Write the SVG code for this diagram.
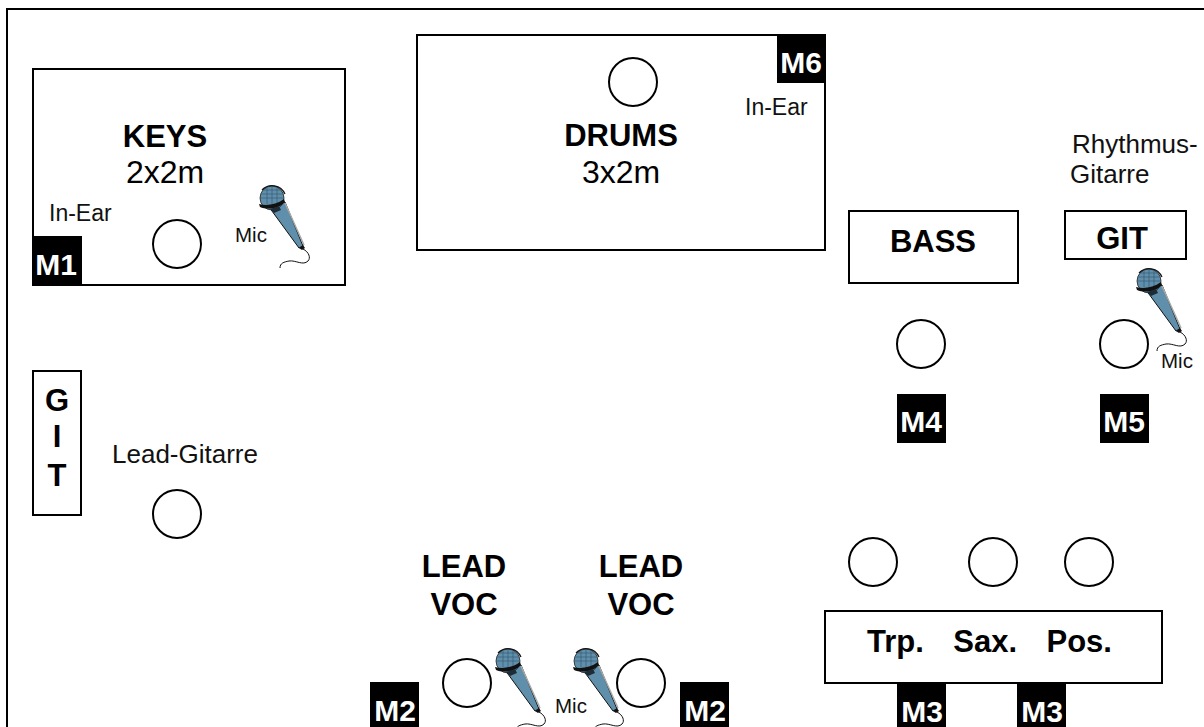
<svg xmlns="http://www.w3.org/2000/svg" width="1204" height="727" viewBox="0 0 1204 727">
<style>
text{font-family:"Liberation Sans",Arial,sans-serif;fill:#000}
.b{font-weight:bold;font-size:31px;text-anchor:middle}
.n{font-size:32px;text-anchor:middle}
.s{font-size:23px;fill:#111}
.l{font-size:26px;fill:#111}
.m{font-size:20.5px;fill:#111}
.k{font-weight:bold;font-size:30px;fill:#fff;text-anchor:middle}
.box{fill:#fff;stroke:#000;stroke-width:2}
.c{fill:#fff;stroke:#000;stroke-width:2}
</style>
<defs>
<g id="mic">
<path d="M-3 9 L27 50 L31 48 L13 4Z" fill="#5f8fab" stroke="#111" stroke-width="1"/>
<path d="M13 5 L32 47" stroke="#aaa" stroke-width="1.500" fill="none"/>
<path d="M27 50 L31 47 L33 50 L30 52Z" fill="#111"/>
<path d="M31 51 C37 54 39 60 36 63 C31 68 24 62 17 63 C12 64 8 65 8 70" fill="none" stroke="#111" stroke-width="1"/>
<circle cx="0" cy="0" r="12" fill="#5f8fab" stroke="#222" stroke-width="0.800"/>
<path d="M-10 -8 A14 14 0 0 1 13 -4" fill="none" stroke="#111" stroke-width="1.200"/>
<path d="M-11 -4H11M-12 0H12M-8 -8H8M-5 -11V6M0 -12V6M5 -11V6" stroke="#33556b" stroke-width="0.600" fill="none"/>
<path d="M-13 6 C-6 8 4 7 12 1 L13 4 C7 11 -5 12 -12 9Z" fill="#111"/>
<path d="M-2 11 L7 8 L9 12 L2 15Z" fill="#1d2c36"/>
</g>
<rect id="tag" x="0" y="0" width="49" height="49" fill="#000"/>
</defs>
<path id="stage" d="M7 727V9H1204" fill="none" stroke="#000" stroke-width="2"/>
<g id="connectors"/>
<g id="keys">
<rect class="box" x="33" y="69" width="312" height="216"/>
<use href="#tag" x="33" y="236"/>
<text class="k" x="56" y="275">M1</text>
<text class="b" x="165" y="147">KEYS</text>
<text class="n" x="165" y="183">2x2m</text>
<text class="s" x="49" y="221">In-Ear</text>
<circle class="c" cx="177" cy="244" r="24"/>
<text class="m" x="235" y="242">Mic</text>
<use href="#mic" x="272" y="198"/>
</g>
<g id="drums">
<rect class="box" x="417" y="35" width="408" height="215"/>
<use href="#tag" x="777" y="34"/>
<text class="k" x="801" y="73">M6</text>
<circle class="c" cx="633" cy="82" r="24"/>
<text class="b" x="621" y="146">DRUMS</text>
<text class="n" x="621" y="183">3x2m</text>
<text class="s" x="745" y="115">In-Ear</text>
</g>
<g id="bass">
<rect class="box" x="849" y="211" width="169" height="72"/>
<text class="b" x="933" y="252">BASS</text>
<circle class="c" cx="921" cy="344" r="24"/>
<use href="#tag" x="897" y="394"/>
<text class="k" x="921" y="432">M4</text>
</g>
<g id="rhythm-git">
<text class="l" x="1072" y="153">Rhythmus-</text>
<text class="l" x="1070" y="183">Gitarre</text>
<rect class="box" x="1065" y="211" width="121" height="48"/>
<text class="b" x="1122" y="249">GIT</text>
<circle class="c" cx="1124" cy="344" r="24"/>
<use href="#mic" x="1149" y="281"/>
<text class="m" x="1161" y="368">Mic</text>
<use href="#tag" x="1100" y="394"/>
<text class="k" x="1124" y="432">M5</text>
</g>
<g id="lead-git">
<rect class="box" x="33" y="371" width="48" height="144"/>
<text class="b" x="57" y="411">G</text>
<text class="b" x="57" y="447">I</text>
<text class="b" x="57" y="486">T</text>
<text class="l" x="112" y="463">Lead-Gitarre</text>
<circle class="c" cx="177" cy="514" r="24"/>
</g>
<g id="lead-voc-1">
<text class="b" x="464" y="577">LEAD</text>
<text class="b" x="464" y="615">VOC</text>
<use href="#tag" x="370" y="682"/>
<text class="k" x="395" y="721">M2</text>
<circle class="c" cx="467" cy="683" r="24"/>
<use href="#mic" x="508" y="661"/>
</g>
<g id="lead-voc-2">
<text class="b" x="641" y="577">LEAD</text>
<text class="b" x="641" y="615">VOC</text>
<text class="m" x="555" y="713">Mic</text>
<use href="#mic" x="586" y="661"/>
<circle class="c" cx="641" cy="683" r="24"/>
<use href="#tag" x="680" y="682"/>
<text class="k" x="705" y="721">M2</text>
</g>
<g id="horns">
<circle class="c" cx="873" cy="562" r="24"/>
<circle class="c" cx="993" cy="562" r="24"/>
<circle class="c" cx="1089" cy="562" r="24"/>
<rect class="box" x="825" y="611" width="337" height="72"/>
<text class="b" x="867" y="652" xml:space="preserve" style="text-anchor:start;word-spacing:1.200px">Trp.   Sax.   Pos.</text>
<use href="#tag" x="897" y="682"/>
<text class="k" x="922" y="722">M3</text>
<use href="#tag" x="1017" y="682"/>
<text class="k" x="1042" y="722">M3</text>
</g>
</svg>
